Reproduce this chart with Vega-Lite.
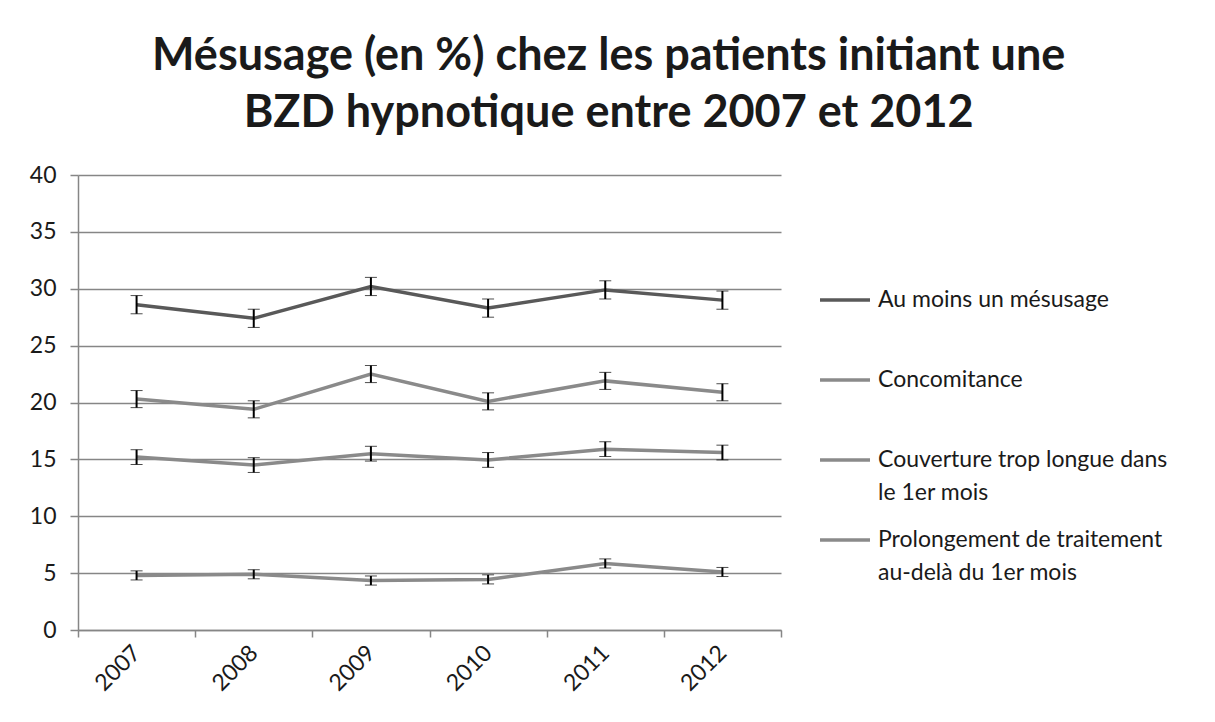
{
  "$schema": "https://vega.github.io/schema/vega-lite/v6.json",
  "width": 703,
  "height": 455,
  "autosize": {"type": "none"},
  "padding": {"left": 78, "top": 175, "right": 434, "bottom": 92},
  "background": "white",
  "title": {
    "text": ["Mésusage (en %) chez les patients initiant une", "BZD hypnotique entre 2007 et 2012"],
    "font": "Lato",
    "fontSize": 45,
    "fontWeight": "bold",
    "color": "#1a1a1a",
    "anchor": "middle",
    "frame": "bounds",
    "offset": 28,
    "dx": 10,
    "lineHeight": 57
  },
  "data": {
    "values": [
      {"year": "2007", "series": "Au moins un mésusage", "value": 28.6, "lo": 27.8, "hi": 29.4},
      {"year": "2008", "series": "Au moins un mésusage", "value": 27.4, "lo": 26.6, "hi": 28.2},
      {"year": "2009", "series": "Au moins un mésusage", "value": 30.2, "lo": 29.4, "hi": 31.0},
      {"year": "2010", "series": "Au moins un mésusage", "value": 28.3, "lo": 27.5, "hi": 29.1},
      {"year": "2011", "series": "Au moins un mésusage", "value": 29.9, "lo": 29.1, "hi": 30.7},
      {"year": "2012", "series": "Au moins un mésusage", "value": 29.0, "lo": 28.2, "hi": 29.8},
      {"year": "2007", "series": "Concomitance", "value": 20.3, "lo": 19.55, "hi": 21.05},
      {"year": "2008", "series": "Concomitance", "value": 19.4, "lo": 18.65, "hi": 20.15},
      {"year": "2009", "series": "Concomitance", "value": 22.5, "lo": 21.75, "hi": 23.25},
      {"year": "2010", "series": "Concomitance", "value": 20.1, "lo": 19.35, "hi": 20.85},
      {"year": "2011", "series": "Concomitance", "value": 21.9, "lo": 21.15, "hi": 22.65},
      {"year": "2012", "series": "Concomitance", "value": 20.9, "lo": 20.15, "hi": 21.65},
      {"year": "2007", "series": "Couverture trop longue dans le 1er mois", "value": 15.2, "lo": 14.55, "hi": 15.85},
      {"year": "2008", "series": "Couverture trop longue dans le 1er mois", "value": 14.5, "lo": 13.85, "hi": 15.15},
      {"year": "2009", "series": "Couverture trop longue dans le 1er mois", "value": 15.5, "lo": 14.85, "hi": 16.15},
      {"year": "2010", "series": "Couverture trop longue dans le 1er mois", "value": 14.95, "lo": 14.3, "hi": 15.6},
      {"year": "2011", "series": "Couverture trop longue dans le 1er mois", "value": 15.9, "lo": 15.25, "hi": 16.55},
      {"year": "2012", "series": "Couverture trop longue dans le 1er mois", "value": 15.6, "lo": 14.95, "hi": 16.25},
      {"year": "2007", "series": "Prolongement de traitement au-delà du 1er mois", "value": 4.8, "lo": 4.4, "hi": 5.2},
      {"year": "2008", "series": "Prolongement de traitement au-delà du 1er mois", "value": 4.9, "lo": 4.5, "hi": 5.3},
      {"year": "2009", "series": "Prolongement de traitement au-delà du 1er mois", "value": 4.35, "lo": 3.95, "hi": 4.75},
      {"year": "2010", "series": "Prolongement de traitement au-delà du 1er mois", "value": 4.45, "lo": 4.05, "hi": 4.85},
      {"year": "2011", "series": "Prolongement de traitement au-delà du 1er mois", "value": 5.85, "lo": 5.45, "hi": 6.25},
      {"year": "2012", "series": "Prolongement de traitement au-delà du 1er mois", "value": 5.1, "lo": 4.7, "hi": 5.5}
    ]
  },
  "encoding": {
    "x": {
      "field": "year",
      "type": "ordinal",
      "scale": {"type": "band", "paddingInner": 0, "paddingOuter": 0},
      "axis": {
        "title": null,
        "labelAngle": -45,
        "labelAlign": "right",
        "labelBaseline": "middle",
        "labelFont": "Lato",
        "labelFontSize": 23,
        "labelColor": "#1a1a1a",
        "labelPadding": 12,
        "tickBand": "extent",
        "tickSize": 7,
        "tickColor": "#868686",
        "tickWidth": 1.5,
        "domainColor": "#868686",
        "domainWidth": 1.5,
        "grid": false
      }
    }
  },
  "layer": [
    {
      "mark": {"type": "line", "strokeWidth": 3.5},
      "encoding": {
        "y": {
          "field": "value",
          "type": "quantitative",
          "scale": {"domain": [0, 40]},
          "axis": {
            "title": null,
            "values": [0, 5, 10, 15, 20, 25, 30, 35, 40],
            "labelFont": "Lato",
            "labelFontSize": 23,
            "labelColor": "#1a1a1a",
            "labelPadding": 14,
            "tickSize": 8,
            "tickColor": "#868686",
            "tickWidth": 1.5,
            "domainColor": "#868686",
            "domainWidth": 1.5,
            "grid": true,
            "gridColor": "#868686",
            "gridWidth": 1.5
          }
        },
        "color": {
          "field": "series",
          "type": "nominal",
          "scale": {
            "domain": ["Au moins un mésusage", "Concomitance", "Couverture trop longue dans le 1er mois", "Prolongement de traitement au-delà du 1er mois"],
            "range": ["#595959", "#8a8a8a", "#8a8a8a", "#8a8a8a"]
          },
          "legend": {
            "title": null,
            "orient": "none",
            "legendX": 740,
            "legendY": 98,
            "padding": 0,
            "symbolType": "stroke",
            "symbolSize": 2500,
            "symbolStrokeWidth": 3.5,
            "labelFont": "Lato",
            "labelFontSize": 23,
            "labelColor": "#1a1a1a",
            "labelOffset": 6,
            "labelLimit": 400,
            "rowPadding": 8,
            "labelExpr": "datum.label == 'Couverture trop longue dans le 1er mois' ? ['Couverture trop longue dans', 'le 1er mois'] : datum.label == 'Prolongement de traitement au-delà du 1er mois' ? ['Prolongement de traitement', 'au-delà du 1er mois'] : [datum.label, ' ']"
          }
        }
      }
    },
    {
      "mark": {"type": "errorbar", "color": "black", "ticks": {"size": 12, "color": "black", "strokeWidth": 2}, "rule": {"strokeWidth": 2}},
      "encoding": {
        "y": {"field": "lo", "type": "quantitative"},
        "y2": {"field": "hi"},
        "detail": {"field": "series"}
      }
    }
  ],
  "config": {
    "view": {"stroke": null},
    "style": {"guide-label": {"lineHeight": 33}}
  }
}
